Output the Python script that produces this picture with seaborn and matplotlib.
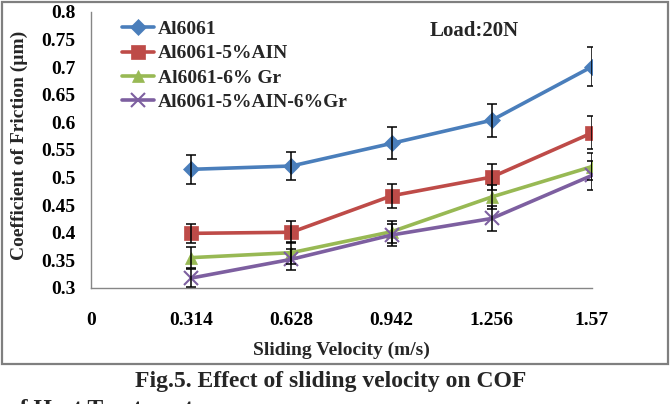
import matplotlib
matplotlib.use("Agg")
import matplotlib.pyplot as plt
import matplotlib.patches as mpatches
import seaborn as sns
import pandas as pd

# ---- data ----
velocity_ticks = [0, 0.314, 0.628, 0.942, 1.256, 1.57]
tick_labels = ["0", "0.314", "0.628", "0.942", "1.256", "1.57"]
velocity = [0.314, 0.628, 0.942, 1.256, 1.57]
series_names = ["Al6061", "Al6061-5%AIN", "Al6061-6% Gr", "Al6061-5%AIN-6%Gr"]
al6061 = [0.515, 0.521, 0.562, 0.604, 0.701]
al6061_aln = [0.399, 0.401, 0.467, 0.501, 0.581]
al6061_gr = [0.355, 0.364, 0.402, 0.465, 0.520]
al6061_aln_gr = [0.318, 0.352, 0.396, 0.426, 0.504]
err_al6061 = [0.026, 0.025, 0.029, 0.030, 0.035]
err_aln = [0.017, 0.020, 0.022, 0.024, 0.030]
err_gr = [0.019, 0.020, 0.020, 0.021, 0.025]
err_aln_gr = [0.017, 0.019, 0.020, 0.023, 0.026]
y_ticks = [0.3, 0.35, 0.4, 0.45, 0.5, 0.55, 0.6, 0.65, 0.7, 0.75, 0.8]
y_tick_labels = ["0.3", "0.35", "0.4", "0.45", "0.5", "0.55", "0.6", "0.65", "0.7", "0.75", "0.8"]

values = [al6061, al6061_aln, al6061_gr, al6061_aln_gr]
errors = [err_al6061, err_aln, err_gr, err_aln_gr]

rows = []
for name, vals, errs in zip(series_names, values, errors):
    for v, y, e in zip(velocity, vals, errs):
        rows.append({"Velocity": v, "COF": y, "err": e, "Material": name})
df = pd.DataFrame(rows)

colors = ["#4A7EBB", "#BE4B48", "#98B954", "#7D5FA0"]
markers = ["D", "s", "^", "x"]
msizes = [8.5, 10, 9, 10]

sns.set_theme(style="white")
plt.rcParams["font.family"] = ["Liberation Serif", "DejaVu Serif"]
plt.rcParams["font.weight"] = "bold"

W, H = 671, 404
fig = plt.figure(figsize=(W / 100, H / 100), dpi=100)
L, R, T, B = 91, 592, 12, 288
ax = fig.add_axes([L / W, 1 - B / H, (R - L) / W, (B - T) / H])

# chart frame
fig.patches.append(mpatches.Rectangle((1.5 / W, 1 - 364 / H), 666 / W, 362 / H,
                                      transform=fig.transFigure, fill=False,
                                      edgecolor="#7f7f7f", lw=1.6))

for name, c, m, ms in zip(series_names, colors, markers, msizes):
    sub = df[df["Material"] == name]
    sns.lineplot(data=sub, x="Velocity", y="COF", ax=ax, color=c, lw=2.6,
                 marker=m, markersize=ms, markeredgecolor=c,
                 markeredgewidth=1.5 if m == "x" else 0.5, label=name,
                 errorbar=None, zorder=3)
    ax.errorbar(sub["Velocity"], sub["COF"], yerr=sub["err"], fmt="none",
                ecolor="black", elinewidth=1.1, capsize=3.5, capthick=1.1, zorder=4)

ax.set_xlim(0, 1.57)
ax.set_ylim(0.3, 0.8)
ax.set_xticks(velocity_ticks)
ax.set_xticklabels(tick_labels)
ax.set_yticks(y_ticks)
ax.set_yticklabels(y_tick_labels)
ax.tick_params(axis="both", which="both", direction="out", length=5, width=1,
               color="#868686", labelsize=14, labelcolor="black")
ax.tick_params(axis="x", pad=12)
ax.tick_params(axis="y", pad=6)
for lab in ax.get_xticklabels() + ax.get_yticklabels():
    lab.set_fontweight("bold")

for s in ["top", "right"]:
    ax.spines[s].set_visible(False)
for s in ["left", "bottom"]:
    ax.spines[s].set_color("#868686")
    ax.spines[s].set_linewidth(1)
ax.grid(False)

ax.set_xlabel("Sliding Velocity (m/s)", fontsize=14, fontweight="bold")
ax.xaxis.set_label_coords(0.5, -(342 - B) / (B - T))
ax.set_ylabel("Coefficient of Friction (\u00b5m)", fontsize=14, fontweight="bold")
ax.yaxis.set_label_coords((19 - L) / (R - L), (B - 145) / (B - T))
ax.yaxis.label.set_verticalalignment("center")

ax.text((474 - L) / (R - L), (B - 31) / (B - T), "Load:20N", transform=ax.transAxes,
        ha="center", va="center", fontsize=15, fontweight="bold")

leg = ax.legend(loc="upper left", bbox_to_anchor=((114 - L) / (R - L), 0.997),
                frameon=False, prop={"weight": "bold", "size": 14},
                handlelength=1.65, handletextpad=0.2, labelspacing=0.34,
                borderaxespad=0)

fig.text(331 / W, 1 - 382 / H, "Fig.5. Effect of sliding velocity on COF",
         ha="center", va="center", fontsize=17, fontweight="bold")
fig.text(8 / W, 1 - 399 / H, "of Heat Treatment", ha="left", va="top",
         fontsize=17, fontweight="bold")

fig.savefig("out.png", dpi=100)
